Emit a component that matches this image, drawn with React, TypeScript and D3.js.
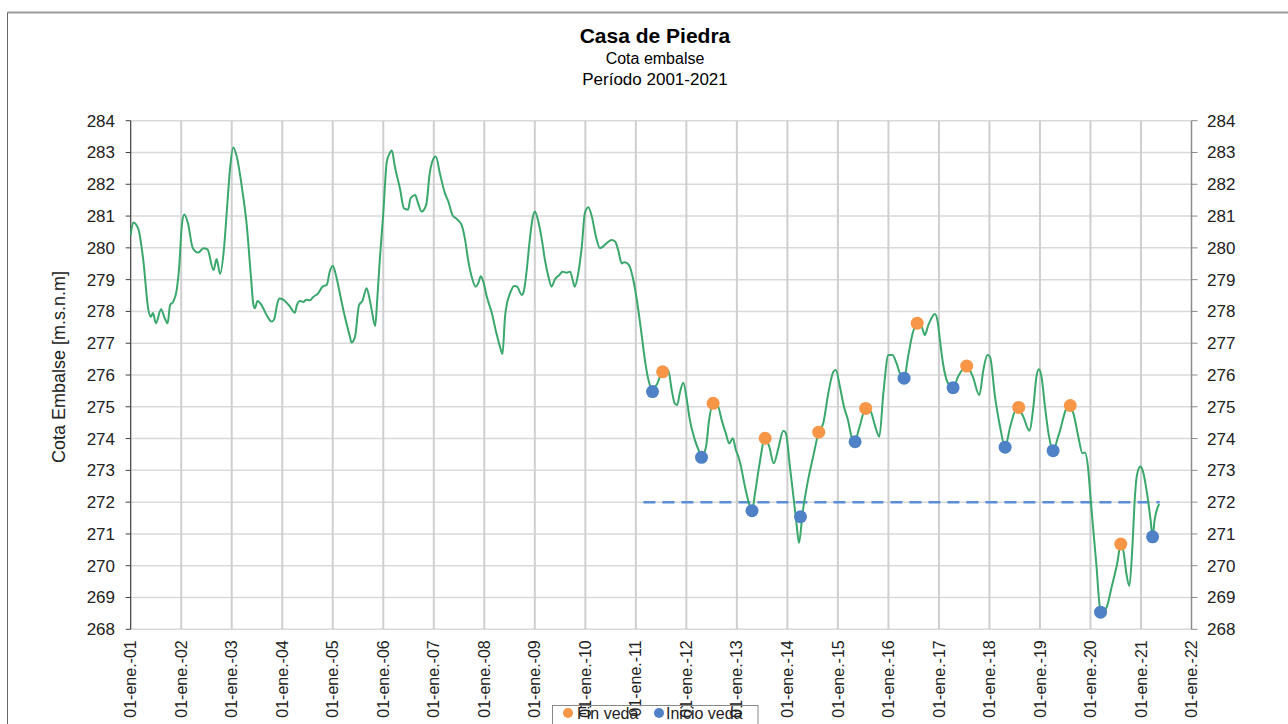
import React from "react";
import * as d3 from "d3";

const W = 1288;
const H = 724;

// fecha en años decimales / cota del embalse [m.s.n.m]
const fechas = [
  2001.0, 2001.05, 2001.15, 2001.25, 2001.35, 2001.4, 2001.44, 2001.5, 2001.6, 2001.67,
  2001.73, 2001.78, 2001.84, 2001.91, 2001.96, 2002.01, 2002.06, 2002.13, 2002.23, 2002.34,
  2002.44, 2002.52, 2002.64, 2002.7, 2002.77, 2002.85, 2002.9, 2002.97, 2003.03, 2003.1,
  2003.2, 2003.3, 2003.38, 2003.43, 2003.46, 2003.51, 2003.59, 2003.69, 2003.79, 2003.84,
  2003.89, 2003.94, 2004.02, 2004.09, 2004.15, 2004.25, 2004.29, 2004.35, 2004.42, 2004.48,
  2004.55, 2004.61, 2004.71, 2004.8, 2004.88, 2004.94, 2005.0, 2005.06, 2005.14, 2005.24,
  2005.34, 2005.37, 2005.44, 2005.52, 2005.59, 2005.67, 2005.72, 2005.77, 2005.84, 2005.88,
  2005.93, 2006.0, 2006.07, 2006.12, 2006.17, 2006.23, 2006.33, 2006.41, 2006.49, 2006.54,
  2006.63, 2006.69, 2006.76, 2006.85, 2006.92, 2006.99, 2007.04, 2007.12, 2007.22, 2007.29,
  2007.37, 2007.46, 2007.55, 2007.62, 2007.68, 2007.75, 2007.83, 2007.88, 2007.93, 2007.98,
  2008.05, 2008.15, 2008.24, 2008.31, 2008.36, 2008.41, 2008.45, 2008.51, 2008.59, 2008.65,
  2008.74, 2008.78, 2008.84, 2008.9, 2008.96, 2009.0, 2009.07, 2009.14, 2009.2, 2009.27,
  2009.33, 2009.4, 2009.48, 2009.55, 2009.63, 2009.7, 2009.75, 2009.79, 2009.86, 2009.93,
  2009.99, 2010.06, 2010.13, 2010.21, 2010.29, 2010.35, 2010.43, 2010.52, 2010.59, 2010.65,
  2010.72, 2010.77, 2010.82, 2010.88, 2010.95, 2011.02, 2011.12, 2011.18, 2011.25, 2011.32,
  2011.41, 2011.53, 2011.64, 2011.71, 2011.77, 2011.82, 2011.87, 2011.94, 2012.01, 2012.07,
  2012.17, 2012.27, 2012.3, 2012.39, 2012.45, 2012.53, 2012.63, 2012.7, 2012.78, 2012.85,
  2012.92, 2012.98, 2013.03, 2013.07, 2013.16, 2013.26, 2013.3, 2013.36, 2013.44, 2013.56,
  2013.64, 2013.73, 2013.82, 2013.92, 2013.97, 2014.05, 2014.12, 2014.18, 2014.23, 2014.3,
  2014.41, 2014.51, 2014.62, 2014.71, 2014.81, 2014.91, 2014.96, 2015.04, 2015.12, 2015.2,
  2015.27, 2015.33, 2015.42, 2015.55, 2015.65, 2015.73, 2015.82, 2015.9, 2016.0, 2016.08,
  2016.16, 2016.24, 2016.31, 2016.39, 2016.48, 2016.57, 2016.66, 2016.72, 2016.79, 2016.84,
  2016.92, 2016.97, 2017.02, 2017.08, 2017.18, 2017.28, 2017.38, 2017.55, 2017.67, 2017.8,
  2017.88, 2017.96, 2018.01, 2018.11, 2018.21, 2018.31, 2018.41, 2018.55, 2018.67, 2018.79,
  2018.87, 2018.93, 2018.98, 2019.03, 2019.1, 2019.18, 2019.26, 2019.36, 2019.57, 2019.66,
  2019.76, 2019.84, 2019.89, 2019.95, 2020.0, 2020.05, 2020.12, 2020.17, 2020.2, 2020.31,
  2020.42, 2020.53, 2020.6, 2020.66, 2020.71, 2020.77, 2020.83, 2020.88, 2020.92, 2020.99,
  2021.04, 2021.11, 2021.19, 2021.23, 2021.27, 2021.36,
];
const cotas = [
  280.4, 280.8, 280.6, 279.6, 278.05, 277.83, 277.95, 277.63, 278.07, 277.8,
  277.63, 278.2, 278.3, 278.67, 279.4, 280.67, 281.05, 280.8, 279.99, 279.85,
  279.99, 279.95, 279.3, 279.65, 279.18, 280.04, 281.09, 282.55, 283.16, 282.87,
  281.92, 280.67, 279.1, 278.2, 278.1, 278.33, 278.2, 277.89, 277.68, 277.75,
  278.15, 278.41, 278.37, 278.27, 278.16, 277.96, 278.2, 278.33, 278.3, 278.37,
  278.35, 278.45, 278.57, 278.78, 278.83, 279.25, 279.44, 279.16, 278.57, 277.83,
  277.2, 277.02, 277.2, 278.2, 278.34, 278.73, 278.46, 278.05, 277.54, 278.36,
  279.6, 281.09, 282.71, 282.95, 283.06, 282.55, 281.87, 281.24, 281.2, 281.56,
  281.66, 281.4, 281.14, 281.35, 282.35, 282.79, 282.87, 282.35, 281.72, 281.45,
  281.03, 280.9, 280.72, 280.25, 279.62, 279.09, 278.78, 278.89, 279.11, 278.94,
  278.46, 277.94, 277.31, 276.89, 276.66, 277.83, 278.26, 278.57, 278.8, 278.78,
  278.52, 278.62, 279.3, 280.25, 280.96, 281.14, 280.82, 280.25, 279.62, 279.09,
  278.78, 279.01, 279.14, 279.25, 279.22, 279.25, 278.99, 278.78, 279.2, 280.04,
  281.09, 281.28, 280.98, 280.35, 279.99, 280.04, 280.16, 280.25, 280.2, 279.93,
  279.51, 279.55, 279.53, 279.41, 278.99, 278.36, 277.2, 276.47, 275.84, 275.55,
  275.69, 276.1, 276.16, 275.53, 275.11, 275.06, 275.43, 275.76, 275.21, 274.58,
  273.95, 273.53, 273.41, 273.75, 274.58, 275.11, 275.0, 274.58, 274.17, 273.85,
  274.01, 273.64, 273.43, 273.2, 272.49, 271.86, 271.73, 272.28, 273.12, 274.01,
  273.75, 273.22, 273.69, 274.25, 274.17, 273.12, 272.17, 271.33, 270.72, 271.65,
  272.7, 273.43, 274.2, 274.48, 275.43, 276.1, 276.16, 275.63, 275.0, 274.58,
  274.06, 273.9, 274.32, 274.95, 274.85, 274.43, 274.06, 275.43, 276.63, 276.63,
  276.37, 276.0, 275.9, 276.58, 277.31, 277.63, 277.52, 277.26, 277.57, 277.75,
  277.92, 277.73, 277.1, 276.37, 275.74, 275.6, 275.95, 276.28, 275.95, 275.37,
  276.16, 276.63, 276.58, 275.32, 274.37, 273.73, 274.37, 274.98, 274.69, 274.25,
  275.0, 275.95, 276.18, 275.95, 275.0, 274.06, 273.62, 274.06, 275.04, 274.8,
  274.06, 273.54, 273.56, 273.12, 272.17, 271.23, 269.97, 268.92, 268.54, 268.66,
  269.34, 270.08, 270.68, 270.39, 269.76, 269.36, 270.6, 272.17, 272.85, 273.12,
  272.96, 272.38, 271.44, 270.91, 271.44, 271.94,
];

// inicio de veda
const inicioFechas = [2011.33, 2012.3, 2013.3, 2014.26, 2015.34, 2016.31, 2017.28, 2018.31, 2019.26, 2020.2, 2021.23];
const inicioCotas = [275.48, 273.41, 271.73, 271.54, 273.9, 275.9, 275.6, 273.73, 273.62, 268.54, 270.91];

// fin de veda
const finFechas = [2011.53, 2012.53, 2013.56, 2014.62, 2015.55, 2016.57, 2017.55, 2018.58, 2019.6, 2020.6];
const finCotas = [276.1, 275.11, 274.01, 274.2, 274.95, 277.63, 276.28, 274.98, 275.04, 270.68];

// cota de referencia (línea punteada)
const refCota = 272;
const refDesde = 2011.15;
const refHasta = 2021.37;

const anios = d3.range(2001, 2023);
const cotaTicks = d3.range(268, 285);

const x = d3.scaleLinear().domain([2001, 2022]).range([130.7, 1191.5]);
const y = d3.scaleLinear().domain([268, 284]).range([629.3, 120.7]);

const FONT = "'Liberation Sans', Arial, sans-serif";

export default function App() {
  const serie = fechas.map((f, i) => [f, cotas[i]] as [number, number]);
  const line = d3
    .line<[number, number]>()
    .x((d) => x(d[0]))
    .y((d) => y(d[1]))
    .curve(d3.curveMonotoneX);

  const [x0, x1] = x.range();
  const [y0, y1] = y.range();

  return (
    <svg
      width={W}
      height={H}
      style={{ position: "absolute", left: 0, top: 0, fontFamily: FONT }}
    >
      <rect width={W} height={H} fill="#fff" />
      {/* marco */}
      <line x1={7.5} y1={12.5} x2={W} y2={12.5} stroke="#999" strokeWidth={2} />
      <line x1={7.5} y1={12.5} x2={7.5} y2={H} stroke="#666" strokeWidth={1} />

      {/* títulos */}
      <text x={655} y={43} textAnchor="middle" fontSize={21} fontWeight="bold" fill="#000">
        Casa de Piedra
      </text>
      <text x={655} y={64} textAnchor="middle" fontSize={16} fill="#000">
        Cota embalse
      </text>
      <text x={655} y={85} textAnchor="middle" fontSize={17} fill="#000">
        Período 2001-2021
      </text>

      {/* grilla */}
      {cotaTicks.map((t) => (
        <line key={"h" + t} x1={x0} x2={x1} y1={y(t)} y2={y(t)} stroke="#d9d9d9" strokeWidth={1.5} />
      ))}
      {anios.slice(1, -1).map((a) => (
        <line key={"v" + a} x1={x(a)} x2={x(a)} y1={y1} y2={y0} stroke="#cfcfcf" strokeWidth={2} />
      ))}

      {/* eje izquierdo */}
      <line x1={x0} x2={x0} y1={y1} y2={y0} stroke="#404040" strokeWidth={1.2} />
      {cotaTicks.map((t) => (
        <g key={"l" + t}>
          <line x1={x0 - 5} x2={x0} y1={y(t)} y2={y(t)} stroke="#404040" />
          <text x={115} y={y(t)} dy="0.35em" textAnchor="end" fontSize={17} fill="#222">
            {t}
          </text>
        </g>
      ))}
      {/* eje derecho */}
      <line x1={x1} x2={x1} y1={y1} y2={y0} stroke="#8c8c8c" strokeWidth={1.5} />
      {cotaTicks.map((t) => (
        <g key={"r" + t}>
          <line x1={x1} x2={x1 + 6} y1={y(t)} y2={y(t)} stroke="#8c8c8c" />
          <text x={1207} y={y(t)} dy="0.35em" textAnchor="start" fontSize={17} fill="#222">
            {t}
          </text>
        </g>
      ))}
      {/* eje inferior */}
      {anios.map((a) => (
        <text
          key={"x" + a}
          transform={`translate(${x(a)},${y0 + 11}) rotate(-90)`}
          dy="0.35em"
          textAnchor="end"
          fontSize={16}
          fill="#222"
        >
          {`01-ene.-${String(a % 100).padStart(2, "0")}`}
        </text>
      ))}
      <text
        transform={`translate(59,367) rotate(-90)`}
        dy="0.35em"
        textAnchor="middle"
        fontSize={18}
        fill="#222"
      >
        Cota Embalse [m.s.n.m]
      </text>

      {/* referencia */}
      <line
        x1={x(refDesde)}
        x2={x(refHasta)}
        y1={y(refCota)}
        y2={y(refCota)}
        stroke="#5b8ed6"
        strokeWidth={2.5}
        strokeDasharray="12,7"
      />

      {/* serie */}
      <path d={line(serie) || ""} fill="none" stroke="#3aa86c" strokeWidth={2} />

      {inicioFechas.map((f, i) => (
        <circle key={"i" + i} cx={x(f)} cy={y(inicioCotas[i])} r={6.5} fill="#4f81c7" />
      ))}
      {finFechas.map((f, i) => (
        <circle key={"f" + i} cx={x(f)} cy={y(finCotas[i])} r={6.5} fill="#f79646" />
      ))}

      {/* leyenda */}
      <rect x={552.5} y={705.5} width={205.5} height={30} fill="none" stroke="#888" />
      <circle cx={568} cy={713} r={5} fill="#f79646" />
      <text x={577} y={713} dy="0.35em" fontSize={16} fill="#222">
        Fin veda
      </text>
      <circle cx={659} cy={713} r={5} fill="#4f81c7" />
      <text x={666} y={713} dy="0.35em" fontSize={16} fill="#222">
        Inicio veda
      </text>
    </svg>
  );
}
